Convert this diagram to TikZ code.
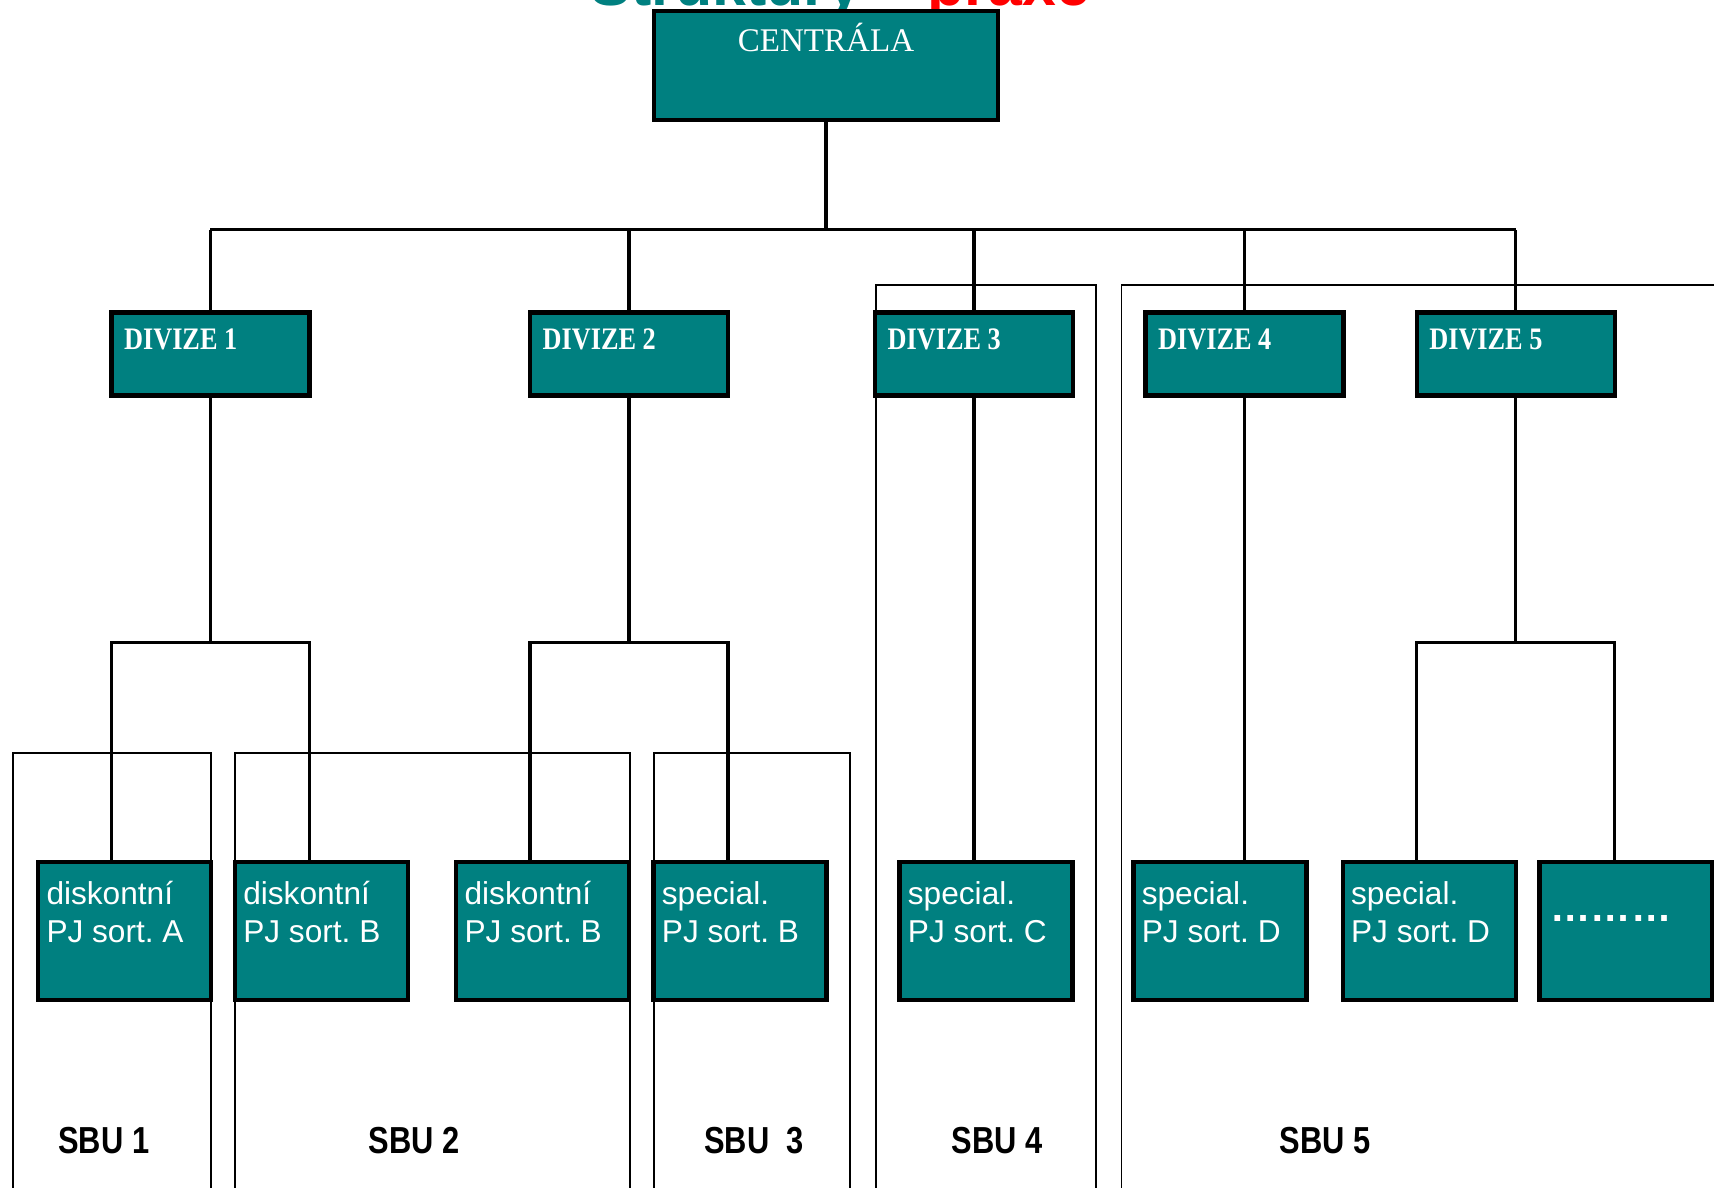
\documentclass[tikz,border=0pt]{standalone}
\usepackage{fontspec}
\setmainfont{Liberation Sans}
\newfontfamily\cenfont{Liberation Serif}
\newfontfamily\divfont{Liberation Serif}[FakeStretch=0.84]
\newfontfamily\sbufont{Liberation Sans}[FakeStretch=0.82]
\usepackage{xcolor}
\usepackage{tikz}
\usetikzlibrary{positioning}
\definecolor{divteal}{HTML}{008080}
\newcommand{\twolines}[2]{\begin{tabular}[t]{@{}l@{}}#1\\#2\end{tabular}}

\begin{document}
\frenchspacing
\begin{tikzpicture}[x=0.1mm,y=-0.1mm,
    tealbox/.style={draw=black,line width=1.2pt,fill=divteal,inner sep=0pt,outer sep=0pt},
    cenbox/.style={tealbox,minimum width=34.4mm,minimum height=10.9mm},
    divbox/.style={tealbox,minimum width=19.8mm,minimum height=8.3mm},
    pjbox/.style={tealbox,minimum width=17.3mm,minimum height=13.8mm},
    boxtext/.style={text=white,inner sep=0pt,anchor=base west},
    divtext/.style={boxtext,font=\divfont\bfseries\fontsize{8.9}{10}\selectfont},
    pjtext/.style={boxtext,font=\fontsize{9}{10.8}\selectfont},
    sbutext/.style={inner sep=0pt,anchor=base,font=\sbufont\bfseries\fontsize{10.7}{12}\selectfont},
    link/.style={line width=0.9pt},
    sbuframe/.style={line width=0.55pt}]

    \useasboundingbox (0,0) rectangle (1714,1187);

    % Title (cut off at the top)
    \begin{scope}
    \clip (0,0) rectangle (1714,9);
    \node [anchor=base west,inner sep=0pt,text=divteal,font=\bfseries\fontsize{17.3}{20}\selectfont] at (590,5) (ttl1) {Struktury};
    \node [anchor=base west,inner sep=0pt,text=red,font=\bfseries\fontsize{17.3}{20}\selectfont] at (927,5) (ttl2) {praxe};
    \end{scope}

    % SBU frames
    \draw [sbuframe] (13.1,1195) |- (211,753) -- (211,1195);
    \draw [sbuframe] (235,1195) |- (629.6,753) -- (629.6,1195);
    \draw [sbuframe] (653.7,1195) |- (850.4,753) -- (850.4,1195);
    \draw [sbuframe] (875.6,1195) |- (1096.4,285.3) -- (1096.4,1195);
    \draw [sbuframe] (1121.5,1195) |- (1730,285.3);

    % The boxes
    \node [cenbox] at (826,65.5) (cen) {};
    \node [text=white,inner sep=0pt,anchor=base,font=\cenfont\fontsize{9.4}{11}\selectfont] at (826,51.4) (cent) {CENTRÁLA};

    \node [divbox] at (210.4,354) (d1) {};
    \node [divbox] at (629,354) (d2) {};
    \node [divbox] at (974,354) (d3) {};
    \node [divbox] at (1244.5,354) (d4) {};
    \node [divbox] at (1515.6,354) (d5) {};
    \foreach \i in {1,...,5}
        \node [divtext] at ([xshift=1.2mm,yshift=-3.7mm]d\i.north west) (dt\i) {DIVIZE \i};

    \node [pjbox] at (124.6,931.3) (b1) {};
    \node [pjbox] at (321.4,931.3) (b2) {};
    \node [pjbox] at (542.7,931.3) (b3) {};
    \node [pjbox] at (740,931.3) (b4) {};
    \node [pjbox] at (986,931.3) (b5) {};
    \node [pjbox] at (1219.9,931.3) (b6) {};
    \node [pjbox] at (1429.2,931.3) (b7) {};
    \node [pjbox] at (1626,931.3) (b8) {};
    \foreach \i/\a/\b in {1/diskontní/PJ sort. A, 2/diskontní/PJ sort. B, 3/diskontní/PJ sort. B,
                          4/special./PJ sort. B, 5/special./PJ sort. C, 6/special./PJ sort. D, 7/special./PJ sort. D}
        \node [pjtext] at ([xshift=0.77mm,yshift=-4.25mm]b\i.north west) (bt\i) {\twolines{\a}{\b}};
    \node [boxtext,font=\bfseries\fontsize{11.5}{13}\selectfont] at ([xshift=1.0mm,yshift=-5.9mm]b8.north west) (bt8) {………};

    % SBU labels
    \node [sbutext] at (103.8,1153) (sbu1) {SBU 1};
    \node [sbutext] at (414,1153) (sbu2) {SBU 2};
    \node [sbutext] at (754,1153) (sbu3) {SBU\ \ 3};
    \node [sbutext] at (997,1153) (sbu4) {SBU 4};
    \node [sbutext] at (1325,1153) (sbu5) {SBU 5};

    % Edges
    \coordinate (bus) at (826,229.5);
    \coordinate (bar) at (0,642.7);
    \draw [link] (cen.south) -- (cen.south |- bus);
    \draw [link] (d1.north |- bus) -- (d5.north |- bus);
    \foreach \n in {d1,d2,d3,d4,d5}
        \draw [link] (\n.north) -- (\n.north |- bus);
    \foreach \n/\l/\r in {d1/b1/b2, d2/b3/b4, d5/b7/b8} {
        \draw [link] (\n.south) -- (\n.south |- bar);
        \draw [link] (\l.north -| \n.west) -- (\n.west |- bar) -- (\n.east |- bar) -- (\r.north -| \n.east);
    }
    \draw [link] (d3.south) -- (d3.south |- b5.north);
    \draw [link] (d4.south) -- (d4.south |- b6.north);

\end{tikzpicture}
\end{document}
